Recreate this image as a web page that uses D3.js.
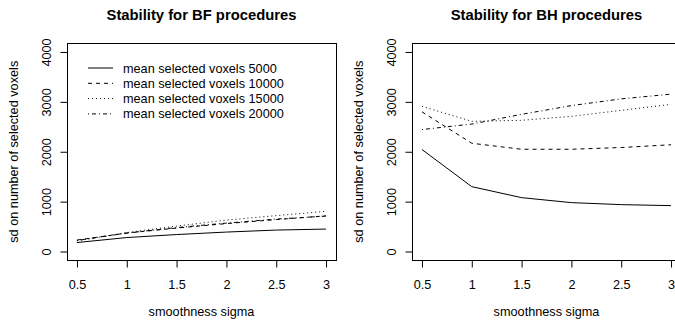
<!DOCTYPE html>
<html>
<head>
<meta charset="utf-8">
<script src="https://cdn.jsdelivr.net/npm/d3@7"></script>
<style>
  html, body { margin: 0; padding: 0; background: #fff; }
  svg { display: block; font-family: "Liberation Sans", Arial, Helvetica, sans-serif; }
</style>
</head>
<body>
<svg id="chart" width="675" height="324"></svg>
<script>
// smoothing levels (sigma) on the x axis
const sigma = [0.5, 1, 1.5, 2, 2.5, 3];
const xTickLabels = ["0.5", "1", "1.5", "2", "2.5", "3"];
const yTicks = [0, 1000, 2000, 3000, 4000];

// legend entries, one per target number of selected voxels
const seriesNames = [
  "mean selected voxels 5000",
  "mean selected voxels 10000",
  "mean selected voxels 15000",
  "mean selected voxels 20000"
];

// sd of number of selected voxels, Bonferroni procedures
const bf5000  = [180, 280, 340, 390, 430, 450];
const bf10000 = [230, 370, 470, 560, 640, 715];
const bf15000 = [215, 380, 510, 630, 720, 805];
const bf20000 = [220, 370, 480, 570, 650, 710];

// sd of number of selected voxels, Benjamini-Hochberg procedures
const bh5000  = [2045, 1300, 1080, 980, 940, 920];
const bh10000 = [2800, 2170, 2050, 2050, 2085, 2140];
const bh15000 = [2910, 2610, 2630, 2710, 2830, 2950];
const bh20000 = [2445, 2555, 2750, 2925, 3060, 3155];

const panels = [
  { title: "Stability for BF procedures", series: [bf5000, bf10000, bf15000, bf20000], left: 67, legend: true },
  { title: "Stability for BH procedures", series: [bh5000, bh10000, bh15000, bh20000], left: 412, legend: false }
];

// line types: solid, dashed, dotted, dot-dash
const dashes = [null, "4,4", "1,3", "1,3,4,3"];

const fontSize = 12.7;
const svg = d3.select("#chart");
const plotW = 269, plotTop = 44, plotBottom = 259.5;

panels.forEach(p => {
  const x = d3.scaleLinear().domain([0.4, 3.1]).range([p.left, p.left + plotW]);
  const y = d3.scaleLinear().domain([-160, 4160]).range([plotBottom, plotTop]);
  const g = svg.append("g");

  // title
  g.append("text")
    .attr("x", p.left + plotW / 2).attr("y", 20)
    .attr("text-anchor", "middle")
    .attr("font-size", 14.8).attr("font-weight", "bold")
    .text(p.title);

  // x axis
  const xAxis = d3.axisBottom(x).tickValues(sigma).tickSize(7).tickPadding(12)
    .tickFormat((d, i) => xTickLabels[i]);
  const gx = g.append("g").attr("transform", `translate(0,${Math.round(plotBottom) + 0.5})`).call(xAxis);
  gx.select(".domain").attr("d", `M${x(0.5)},0H${x(3)}`);
  gx.selectAll("text").attr("font-size", fontSize).attr("fill", "#000")
    .attr("font-family", "Liberation Sans, Arial, sans-serif");

  // y axis with rotated tick labels
  const yAxis = d3.axisLeft(y).tickValues(yTicks).tickSize(7).tickPadding(4).tickFormat(d3.format("d"));
  const gy = g.append("g").attr("transform", `translate(${p.left + 0.5},0)`).call(yAxis);
  gy.select(".domain").attr("d", `M0,${y(0)}V${y(4000)}`);
  gy.selectAll("text")
    .attr("font-size", fontSize).attr("fill", "#000")
    .attr("font-family", "Liberation Sans, Arial, sans-serif")
    .attr("text-anchor", "middle").attr("dy", null)
    .attr("transform", "translate(-17,0) rotate(-90)")
    .attr("x", 0).attr("y", 0);

  // plot frame
  g.append("rect")
    .attr("x", p.left + 0.5).attr("y", plotTop - 0.5)
    .attr("width", plotW).attr("height", Math.round(plotBottom) - plotTop + 1)
    .attr("fill", "none").attr("stroke", "#000").attr("stroke-width", 1);

  // axis titles
  g.append("text")
    .attr("x", p.left + plotW / 2).attr("y", 315.5)
    .attr("text-anchor", "middle").attr("font-size", fontSize)
    .text("smoothness sigma");
  g.append("text")
    .attr("transform", `translate(${p.left - 49},${(plotTop + plotBottom) / 2}) rotate(-90)`)
    .attr("text-anchor", "middle").attr("font-size", fontSize)
    .text("sd on number of selected voxels");

  // series lines
  const line = d3.line().x((d, i) => x(sigma[i])).y(d => y(d));
  p.series.forEach((s, k) => {
    g.append("path")
      .datum(s)
      .attr("d", line)
      .attr("fill", "none").attr("stroke", "#000").attr("stroke-width", 1)
      .attr("stroke-dasharray", dashes[k]);
  });

  // legend (no frame)
  if (p.legend) {
    seriesNames.forEach((name, k) => {
      const ly = 68 + k * 15.3;
      g.append("line")
        .attr("x1", 88).attr("x2", 113).attr("y1", ly).attr("y2", ly)
        .attr("stroke", "#000").attr("stroke-width", 1)
        .attr("stroke-dasharray", dashes[k]);
      g.append("text")
        .attr("x", 123).attr("y", ly + 4.5)
        .attr("font-size", fontSize)
        .text(name);
    });
  }
});
</script>
</body>
</html>
